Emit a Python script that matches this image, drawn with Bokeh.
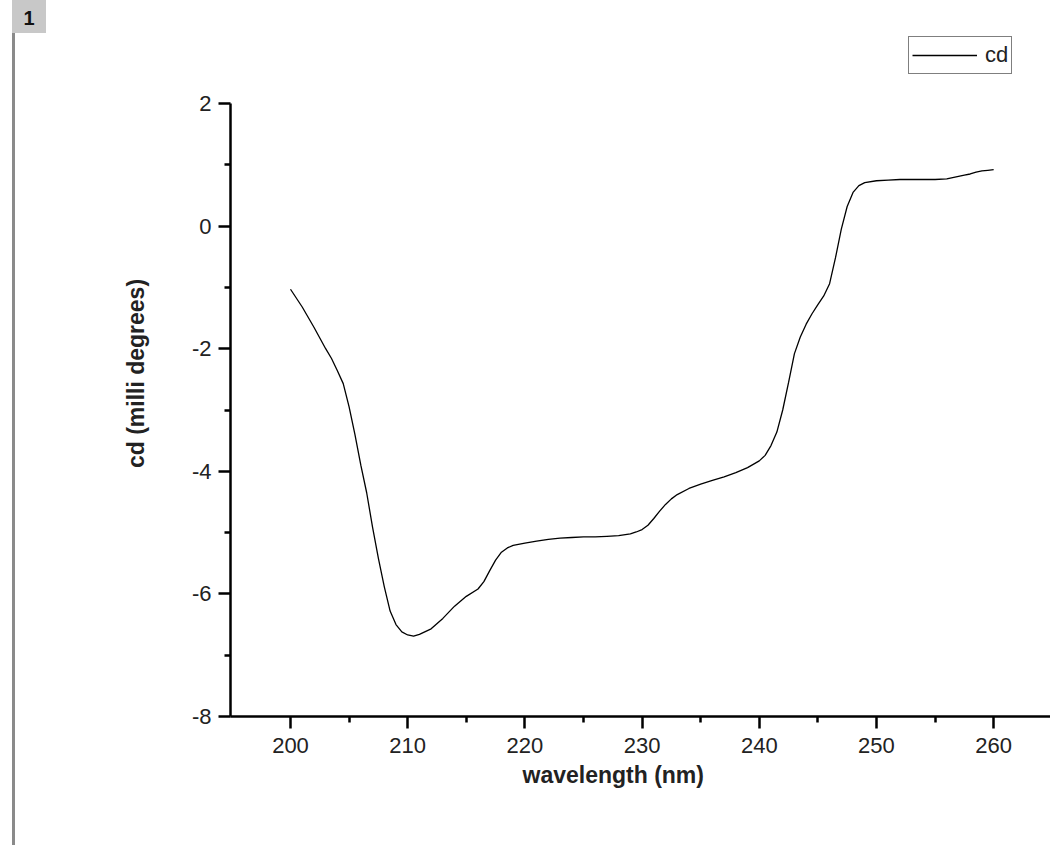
from bokeh.plotting import figure
from bokeh.models import (Range1d, FixedTicker, Legend, LegendItem, Div, Title)
from bokeh.layouts import row
from bokeh.embed import file_html
from bokeh.resources import INLINE

# ---- data ----
wavelength = [200.0, 201.0, 202.0, 203.0, 203.5, 204.0, 204.5, 205.0, 205.5, 206.0,
              206.5, 207.0, 207.5, 208.0, 208.5, 209.0, 209.5, 210.0, 210.5, 211.0,
              212.0, 213.0, 214.0, 215.0, 216.0, 216.5, 217.0, 217.5, 218.0, 218.5,
              219.0, 220.0, 221.0, 222.0, 223.0, 224.0, 225.0, 226.0, 227.0, 228.0,
              229.0, 229.5, 230.0, 230.5, 231.0, 231.5, 232.0, 232.5, 233.0, 234.0,
              235.0, 236.0, 237.0, 238.0, 239.0, 240.0, 240.5, 241.0, 241.5, 242.0,
              242.5, 243.0, 243.5, 244.0, 244.5, 245.0, 245.5, 246.0, 246.5, 247.0,
              247.5, 248.0, 248.5, 249.0, 250.0, 251.0, 252.0, 253.0, 254.0, 255.0,
              256.0, 256.5, 257.0, 257.5, 258.0, 258.5, 259.0, 259.5, 260.0]
cd = [-1.03, -1.32, -1.65, -2.00, -2.16, -2.36, -2.57, -2.95, -3.40, -3.90,
      -4.35, -4.91, -5.42, -5.88, -6.28, -6.50, -6.62, -6.67, -6.69, -6.66,
      -6.57, -6.40, -6.20, -6.04, -5.92, -5.80, -5.62, -5.45, -5.32, -5.25,
      -5.21, -5.17, -5.14, -5.11, -5.09, -5.08, -5.07, -5.07, -5.06, -5.05,
      -5.02, -4.99, -4.95, -4.88, -4.77, -4.65, -4.54, -4.45, -4.38, -4.28,
      -4.21, -4.15, -4.09, -4.02, -3.94, -3.83, -3.74, -3.58, -3.36, -3.00,
      -2.55, -2.08, -1.81, -1.60, -1.43, -1.28, -1.14, -0.94, -0.52, -0.05,
      0.32, 0.55, 0.66, 0.71, 0.74, 0.75, 0.76, 0.76, 0.76, 0.76,
      0.77, 0.79, 0.81, 0.83, 0.85, 0.88, 0.90, 0.91, 0.92]

x_major = [200, 210, 220, 230, 240, 250, 260]
x_minor = [205, 215, 225, 235, 245, 255]
y_major = [-8, -6, -4, -2, 0, 2]
y_minor = [-7, -5, -3, -1, 1]
y_tick_text = {v: str(v) for v in y_major}  # plain hyphen minus, as in the reference

x_label = "wavelength (nm)"
y_label = "cd (milli degrees)"
series_name = "cd"
page_label = "1"

FONT = "Liberation Sans"

# frame: y axis drawn from -8 to 2, frame extends higher so the legend fits inside it
Y_LOW, Y_HIGH = -8, 2
FRAME_TOP_PX = 30
AXIS_TOP_PX = 103
AXIS_BOTTOM_PX = 716
y_end = Y_LOW + (AXIS_BOTTOM_PX - FRAME_TOP_PX) * (Y_HIGH - Y_LOW) / (AXIS_BOTTOM_PX - AXIS_TOP_PX)

H = 845
p = figure(width=1002, height=H, output_backend="svg", toolbar_location=None,
           x_range=Range1d(194.88, 264.85), y_range=Range1d(Y_LOW, y_end),
           min_border_left=182, min_border_right=0, min_border_top=FRAME_TOP_PX,
           min_border_bottom=H - AXIS_BOTTOM_PX)
p.outline_line_color = None
p.xgrid.visible = False
p.ygrid.visible = False
p.background_fill_color = "white"
p.border_fill_color = "white"

# legend-only glyph (no data): the red box Origin draws in the legend swatch
box_r = p.quad(left=[], right=[], top=[], bottom=[], fill_color=None,
               line_color="#d03030", line_width=1.2)
r = p.line(wavelength, cd, line_color="black", line_width=1.3)

for ax in (p.xaxis[0], p.yaxis[0]):
    ax.axis_line_width = 2.5
    ax.axis_line_color = "black"
    ax.major_tick_line_width = 2.5
    ax.minor_tick_line_width = 2.5
    ax.major_tick_line_color = "black"
    ax.minor_tick_line_color = "black"
    ax.major_tick_in = 0
    ax.minor_tick_in = 0
    ax.major_tick_out = 12
    ax.minor_tick_out = 6
    ax.major_label_text_font = FONT
    ax.major_label_text_font_size = "22px"
    ax.major_label_text_color = "#222222"

p.xaxis[0].ticker = FixedTicker(ticks=x_major, minor_ticks=x_minor)
p.yaxis[0].ticker = FixedTicker(ticks=y_major, minor_ticks=y_minor)
p.yaxis[0].bounds = (Y_LOW, Y_HIGH)
p.yaxis[0].major_label_overrides = y_tick_text
p.xaxis[0].major_label_standoff = 9
p.yaxis[0].major_label_standoff = 7

p.yaxis[0].axis_label = y_label
p.yaxis[0].axis_label_text_font = FONT
p.yaxis[0].axis_label_text_font_size = "23px"
p.yaxis[0].axis_label_text_font_style = "bold"
p.yaxis[0].axis_label_text_color = "#222222"
p.yaxis[0].axis_label_standoff = 40

xt = Title(text=x_label, align="left", offset=292, text_font=FONT,
           text_font_size="23px", text_font_style="bold", text_color="#222222",
           standoff=8)
p.add_layout(xt, "below")

legend = Legend(items=[LegendItem(label=series_name, renderers=[box_r, r])],
                location=(678, 642), orientation="vertical",
                border_line_color="black", border_line_width=1.5,
                background_fill_color="white", background_fill_alpha=1.0,
                padding=3, margin=0, spacing=0,
                glyph_width=65, glyph_height=30, label_standoff=8,
                label_text_font=FONT, label_text_font_size="22px",
                label_text_color="#222222")
p.add_layout(legend, "center")

side = Div(text=(
    '<div style="position:relative;width:48px;height:' + str(H) + 'px;">'
    '<div style="position:absolute;left:12px;top:0;width:3px;height:' + str(H) + 'px;background:#8a8a8a;"></div>'
    '<div style="position:absolute;left:12px;top:0;width:34px;height:33px;background:#c8c8c8;'
    'font-family:Liberation Sans;font-weight:bold;font-size:20px;color:#111;'
    'text-align:center;line-height:36px;">' + page_label + '</div>'
    '</div>'), width=48, height=H, margin=0)

layout = row(side, p, spacing=0)
open("out.html", "w").write(file_html(layout, INLINE))
